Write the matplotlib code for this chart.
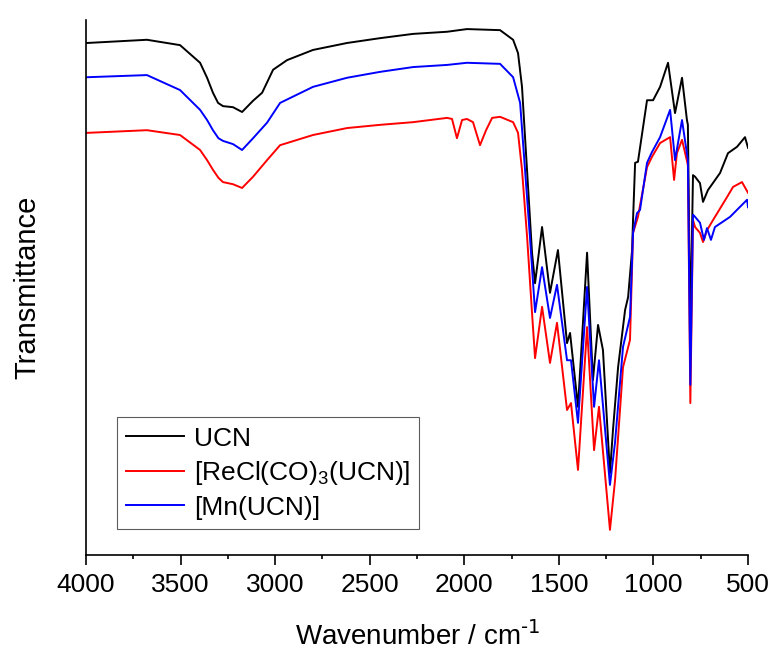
import matplotlib
matplotlib.use("Agg")
import matplotlib.pyplot as plt
from matplotlib.ticker import MultipleLocator

plt.rcParams['font.family'] = ['Liberation Sans', 'DejaVu Sans']
plt.rcParams['mathtext.default'] = 'regular'

# wavenumber (cm-1) and transmittance (a.u.)
wn_ucn = [3995, 3678, 3503, 3397, 3360, 3329, 3302, 3276, 3223, 3175, 3117, 3069,
          3011, 2937, 2800, 2620, 2446, 2271, 2091, 1986, 1811, 1742, 1716, 1695,
          1679, 1663, 1642, 1626, 1589, 1547, 1505, 1457, 1441, 1399, 1351, 1320,
          1293, 1267, 1230, 1214, 1187, 1150, 1134, 1113, 1108, 1097, 1082, 1034,
          1002, 965, 923, 886, 849, 823, 818, 805, 791, 780, 754, 738, 712, 648,
          606, 558, 516, 500]
t_ucn = [95.7, 96.3, 95.3, 92.0, 89.2, 86.4, 84.5, 83.9, 83.7, 82.8, 84.9, 86.4,
         90.7, 92.5, 94.4, 95.7, 96.6, 97.4, 97.8, 98.3, 98.1, 96.3, 93.8, 87.5,
         78.1, 68.8, 56.5, 50.8, 61.3, 49.0, 57.0, 39.6, 41.5, 27.7, 56.5, 32.7,
         43.0, 38.3, 15.3, 23.4, 35.1, 45.8, 48.2, 57.0, 62.6, 73.3, 73.5, 85.0,
         85.0, 87.5, 92.0, 82.6, 89.2, 81.3, 80.4, 42.1, 71.0, 70.7, 69.5, 66.0,
         68.2, 71.4, 75.1, 76.3, 78.1, 76.1]

wn_re = [3995, 3678, 3503, 3397, 3360, 3329, 3300, 3276, 3223, 3175, 3117, 3043,
         2974, 2800, 2620, 2446, 2271, 2091, 2065, 2039, 2012, 1986, 1954, 1917,
         1885, 1853, 1811, 1742, 1716, 1695, 1668, 1642, 1626, 1589, 1547, 1510,
         1457, 1436, 1399, 1351, 1314, 1288, 1230, 1203, 1161, 1124, 1108, 1082,
         1034, 1008, 965, 912, 891, 876, 849, 818, 805, 791, 780, 754, 738, 717,
         685, 611, 579, 532, 500]
t_re = [78.9, 79.4, 78.5, 75.7, 73.8, 72.0, 70.5, 69.7, 69.3, 68.6, 70.7, 73.8,
        76.6, 78.5, 79.8, 80.4, 80.9, 81.7, 81.5, 77.9, 81.3, 81.5, 80.9, 76.6,
        79.4, 81.7, 81.9, 80.9, 78.9, 72.0, 59.4, 45.2, 36.8, 46.4, 35.9, 43.4,
        27.1, 28.4, 15.9, 42.6, 19.6, 27.7, 4.7, 14.0, 35.1, 40.2, 60.2, 63.2,
        72.5, 74.4, 77.0, 78.1, 70.1, 75.1, 77.6, 72.9, 28.4, 62.6, 61.3, 60.2,
        58.5, 60.7, 62.6, 66.9, 68.8, 69.7, 67.7]

wn_mn = [3995, 3678, 3503, 3397, 3360, 3329, 3300, 3276, 3223, 3175, 3117, 3043,
         2974, 2800, 2620, 2446, 2271, 2091, 1986, 1811, 1742, 1705, 1679, 1653,
         1626, 1589, 1547, 1510, 1457, 1436, 1399, 1351, 1314, 1288, 1230, 1203,
         1161, 1124, 1108, 1087, 1071, 1034, 1008, 965, 912, 886, 849, 818, 805,
         791, 780, 754, 733, 717, 696, 675, 595, 505, 500]
t_mn = [89.3, 89.7, 86.9, 83.2, 81.3, 79.4, 77.9, 77.4, 76.8, 75.7, 77.9, 80.8,
        84.5, 87.5, 89.2, 90.3, 91.2, 91.6, 92.0, 91.8, 89.3, 84.5, 72.0, 59.4,
        45.4, 53.8, 44.3, 50.5, 36.4, 36.4, 24.7, 50.1, 27.7, 36.4, 13.1, 21.1,
        38.9, 44.5, 60.2, 63.9, 64.5, 73.3, 75.3, 78.1, 83.2, 73.8, 81.3, 73.8,
        31.8, 63.6, 63.2, 62.1, 58.9, 61.1, 58.9, 61.3, 63.2, 66.4, 65.0]

fig = plt.figure(figsize=(7.73, 6.53), dpi=100)
ax = fig.add_axes([0.1113, 0.1501, 0.8564, 0.8193])

ax.plot(wn_ucn, t_ucn, color='black', lw=1.4, label='UCN')
ax.plot(wn_re, t_re, color='red', lw=1.4, label='[ReCl(CO)$_3$(UCN)]')
ax.plot(wn_mn, t_mn, color='blue', lw=1.4, label='[Mn(UCN)]')

ax.set_xlim(4000, 500)
ax.set_ylim(0, 100)
ax.xaxis.set_major_locator(MultipleLocator(500))
ax.xaxis.set_minor_locator(MultipleLocator(250))
ax.tick_params(axis='x', which='major', direction='out', length=7, width=1.2,
               labelsize=19, pad=6)
ax.tick_params(axis='x', which='minor', direction='out', length=3, width=1.2)
ax.set_yticks([])
for s in ['top', 'right']:
    ax.spines[s].set_visible(False)
for s in ['left', 'bottom']:
    ax.spines[s].set_linewidth(1.2)

ax.set_xlabel('Wavenumber / cm$^{\\text{-1}}$', fontsize=20, labelpad=18)
ax.set_ylabel('Transmittance', fontsize=21, labelpad=32)

leg = ax.legend(loc='lower left', bbox_to_anchor=(0.047, 0.049), borderaxespad=0,
                fontsize=19, frameon=True, fancybox=False, handlelength=2.2,
                handletextpad=0.35, labelspacing=0.32, borderpad=0.35)
leg.get_frame().set_edgecolor('#333333')
leg.get_frame().set_linewidth(0.8)

fig.savefig('out.png', dpi=100)
